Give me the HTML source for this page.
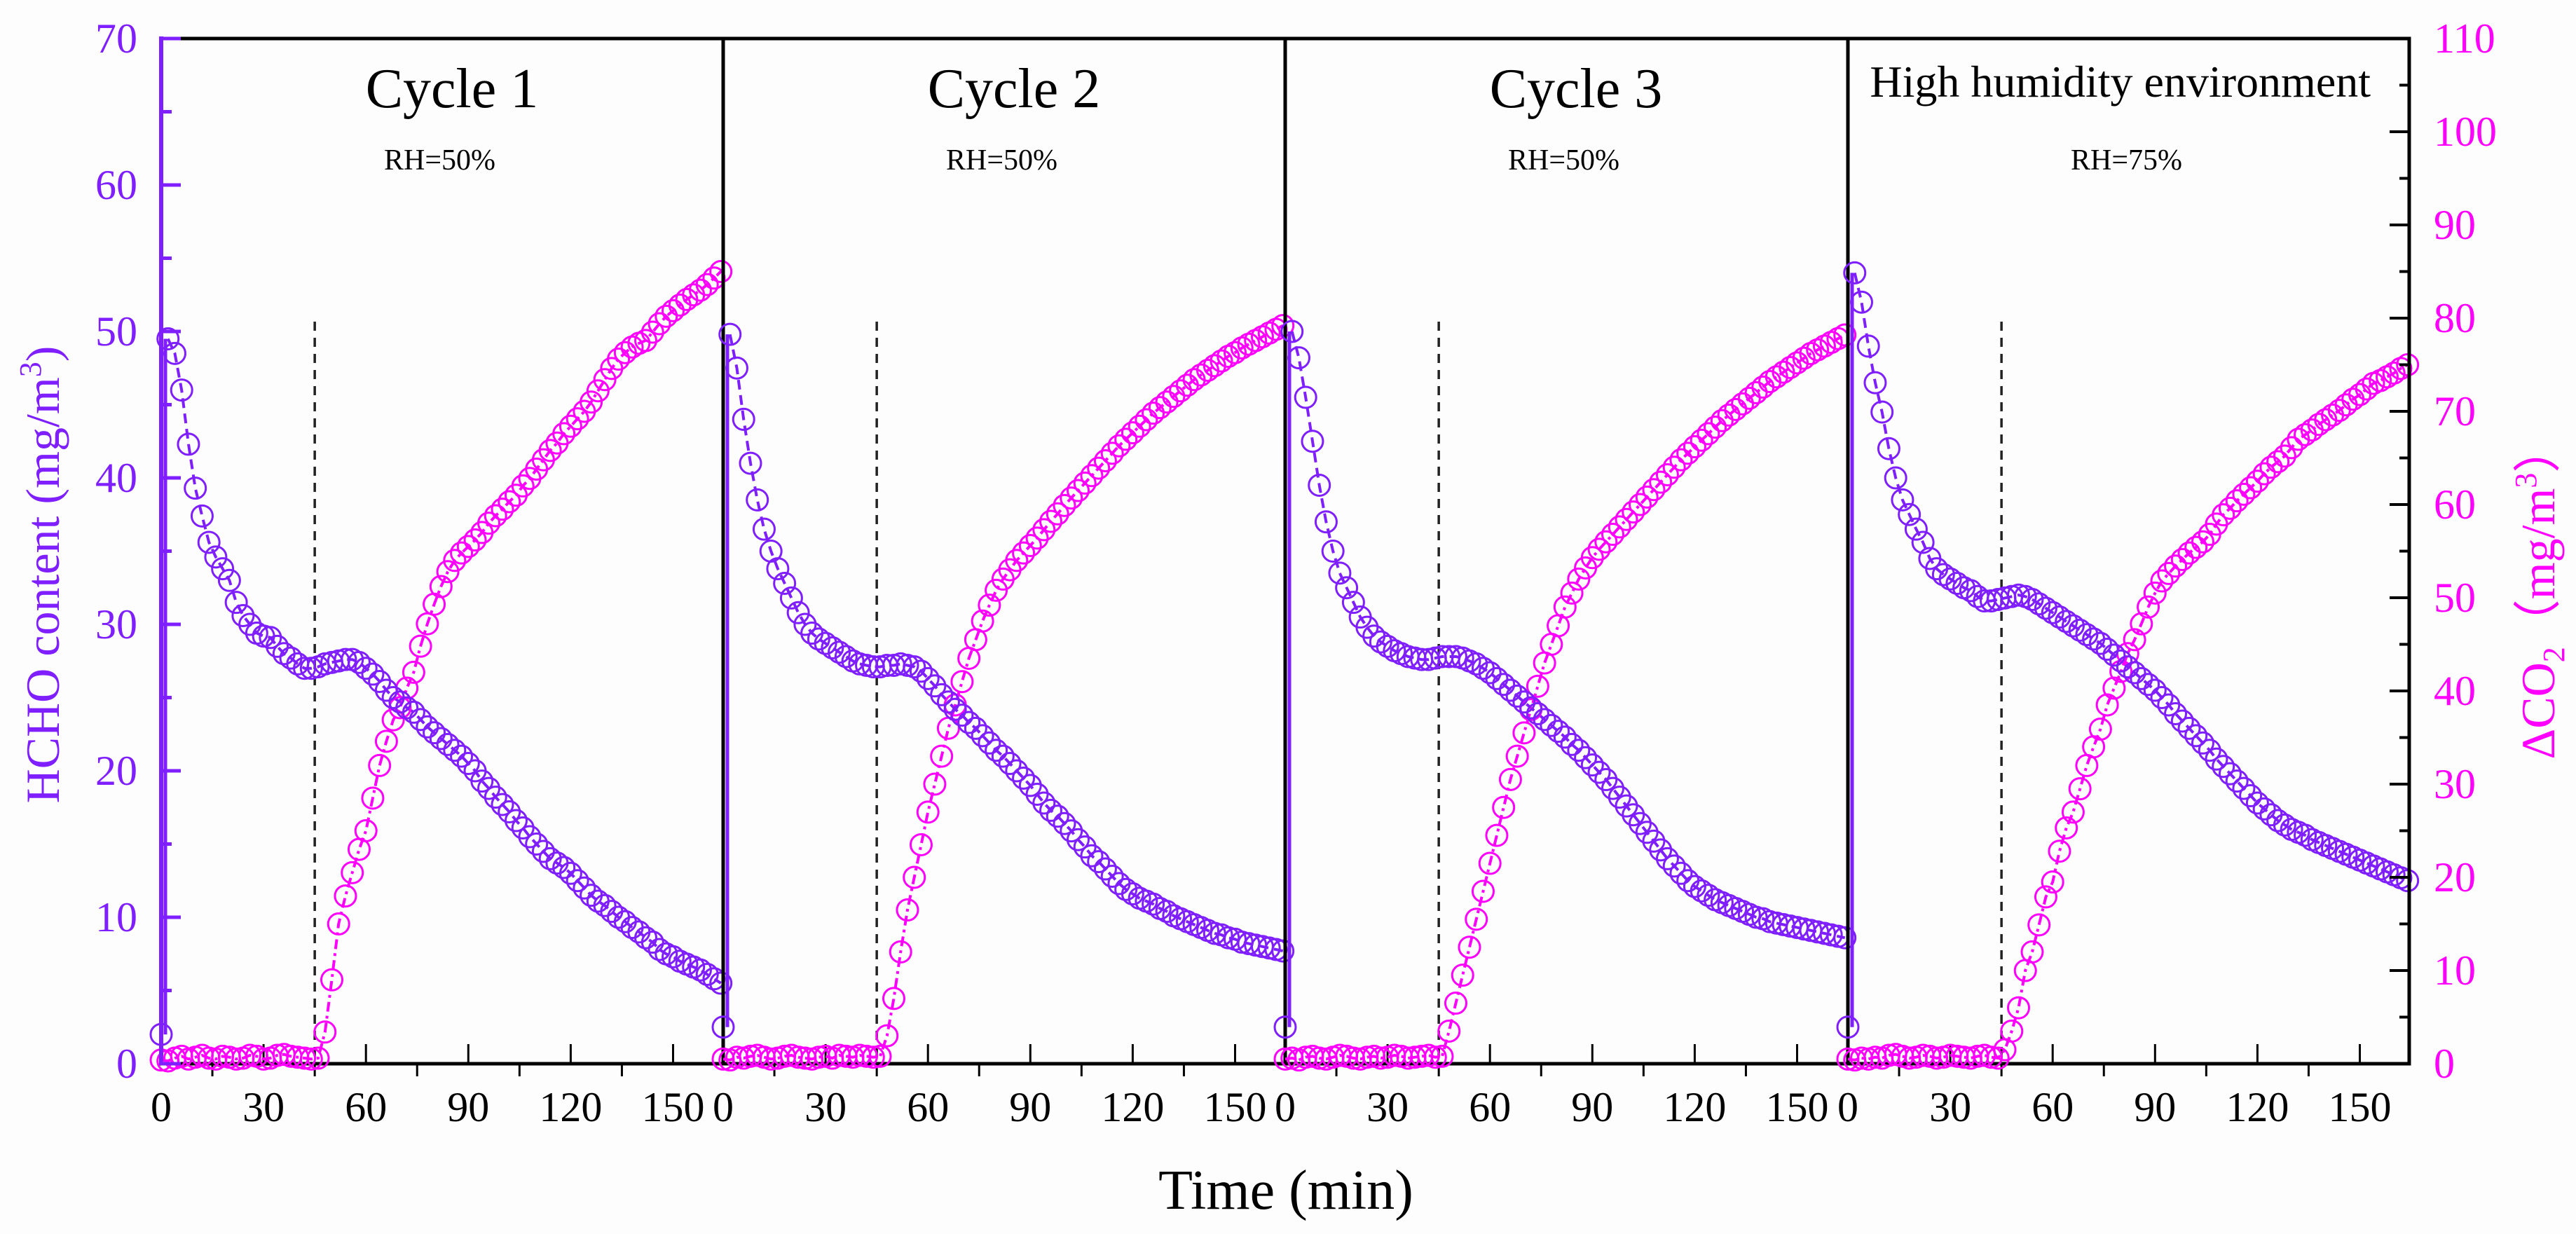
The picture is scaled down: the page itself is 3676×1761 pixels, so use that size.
<!DOCTYPE html>
<html><head><meta charset="utf-8">
<style>
html,body{margin:0;padding:0;background:#fdfdfd;}
svg{display:block;font-family:"Liberation Serif",serif;}
</style></head>
<body>
<svg id="chart" width="3676" height="1761" viewBox="0 0 3676 1761" xmlns="http://www.w3.org/2000/svg">
<rect x="0" y="0" width="3676" height="1761" fill="#fdfdfd"/>
<g id="plot"></g>
<text x="1835" y="1725" font-size="80" text-anchor="middle" fill="#000">Time (min)</text>
<text transform="translate(84,820) rotate(-90)" font-size="68" text-anchor="middle" fill="#7f1fff">HCHO content (mg/m<tspan dy="-26" font-size="44">3</tspan><tspan dy="26">)</tspan></text>
<text transform="translate(3645,845) rotate(-90)" font-size="68" text-anchor="middle" fill="#ff00ff">ΔCO<tspan dy="14" font-size="44">2</tspan><tspan dy="-14">（mg/m</tspan><tspan dy="-26" font-size="44">3</tspan><tspan dy="26">）</tspan></text>
</svg>
<script>
const times=[0,2,4,6,8,10,12,14,16,18,20,22,24,26,28,30,32,34,36,38,40,42,44,46,48,50,52,54,56,58,60,62,64,66,68,70,72,74,76,78,80,82,84,86,88,90,92,94,96,98,100,102,104,106,108,110,112,114,116,118,120,122,124,126,128,130,132,134,136,138,140,142,144,146,148,150,152,154,156,158,160,162,164];
const panelTitles=["Cycle 1","Cycle 2","Cycle 3","High humidity environment"];
const panelRH=["RH=50%","RH=50%","RH=50%","RH=75%"];
const xTicks=[0,30,60,90,120,150];
const leftTicks=[0,10,20,30,40,50,60,70];
const rightTicks=[0,10,20,30,40,50,60,70,80,90,100,110];
const switchTime=45;
const hcho1=[2,49.5,48.5,46,42.3,39.3,37.4,35.6,34.6,33.8,33,31.5,30.6,30,29.4,29.2,29.1,28.5,28,27.7,27.3,27,27,27.1,27.3,27.4,27.5,27.6,27.6,27.4,27,26.6,26.1,25.5,25,24.7,24.3,24,23.5,23,22.6,22.2,21.8,21.4,21,20.5,20,19.3,18.8,18.2,17.7,17.2,16.6,16.1,15.5,15,14.5,14,13.7,13.4,13,12.5,12,11.5,11.1,10.8,10.4,10,9.7,9.3,9,8.6,8.3,7.8,7.5,7.3,7,6.8,6.6,6.4,6.1,5.8,5.5];
const co21=[0.4,0.3,0.6,0.8,0.5,0.7,0.9,0.6,0.5,0.8,0.7,0.5,0.6,0.9,0.8,0.5,0.6,0.9,1.0,0.8,0.7,0.6,0.5,0.6,3.4,9,15,18,20.5,23,25,28.5,32,34.6,36.9,38.2,40.3,42,44.8,47.2,49.3,51.2,52.8,54,54.8,55.5,56.2,57,58,58.8,59.5,60.3,61,62,62.8,63.8,64.8,65.8,66.6,67.6,68.4,69.2,70,71,72.2,73.4,74.6,75.6,76.3,76.9,77.3,77.6,78.5,79.4,80.2,80.8,81.4,82,82.5,83,83.6,84.3,85];
const hcho2=[2.5,49.8,47.5,44,41,38.5,36.5,35,33.8,32.8,31.8,30.8,30,29.4,29,28.7,28.4,28.1,27.8,27.5,27.3,27.2,27.1,27.1,27.2,27.2,27.3,27.2,27.1,26.8,26.3,25.8,25.2,24.7,24.2,23.8,23.3,22.9,22.4,21.9,21.4,21,20.5,20,19.5,19,18.4,17.8,17.3,16.9,16.4,15.9,15.3,14.8,14.2,13.8,13.3,12.8,12.3,11.9,11.6,11.3,11.1,10.9,10.6,10.4,10.1,9.9,9.7,9.5,9.3,9.1,8.9,8.8,8.6,8.5,8.3,8.2,8.1,8,7.9,7.8,7.7];
const co22=[0.5,0.4,0.7,0.6,0.8,0.9,0.7,0.5,0.6,0.8,0.9,0.7,0.6,0.5,0.7,0.8,0.6,0.9,0.8,0.7,0.9,0.8,0.7,0.8,3,7,12,16.5,20,23.5,27,30,33,36,38.5,41,43.5,45.5,47.5,49.2,50.8,52,53,54,54.8,55.6,56.4,57.3,58.2,59,59.9,60.7,61.5,62.3,63.1,63.9,64.7,65.5,66.3,67,67.7,68.4,69.1,69.8,70.4,71,71.6,72.2,72.8,73.4,73.9,74.4,74.9,75.4,75.9,76.3,76.8,77.2,77.6,78,78.4,78.8,79.2];
const hcho3=[2.5,50,48.2,45.5,42.5,39.5,37,35,33.5,32.5,31.5,30.5,29.8,29.2,28.8,28.5,28.2,28,27.8,27.7,27.6,27.6,27.7,27.8,27.8,27.8,27.7,27.5,27.3,27,26.7,26.3,25.9,25.5,25.1,24.7,24.3,23.9,23.5,23.1,22.7,22.3,21.8,21.4,20.9,20.4,19.9,19.4,18.8,18.2,17.6,17,16.4,15.8,15.2,14.6,14,13.5,13,12.5,12.1,11.8,11.5,11.2,11,10.8,10.6,10.4,10.2,10,9.9,9.7,9.6,9.5,9.4,9.3,9.2,9.1,9,8.9,8.8,8.7,8.6];
const co23=[0.5,0.6,0.4,0.7,0.8,0.6,0.5,0.7,0.9,0.8,0.6,0.5,0.7,0.8,0.6,0.7,0.9,0.8,0.6,0.7,0.8,0.9,0.7,0.8,3.5,6.5,9.5,12.5,15.5,18.5,21.5,24.5,27.5,30.5,33,35.5,38,40.5,43,45,47,49,50.5,52,53.2,54.3,55.2,56,56.8,57.6,58.4,59.2,60,60.8,61.6,62.4,63.2,64,64.8,65.5,66.2,66.9,67.6,68.3,69,69.6,70.2,70.8,71.4,72,72.6,73.2,73.7,74.2,74.7,75.2,75.7,76.2,76.6,77,77.4,77.8,78.2];
const hcho4=[2.5,54,52,49,46.5,44.5,42,40,38.5,37.5,36.5,35.6,34.5,33.8,33.4,33.1,32.8,32.5,32.3,31.9,31.6,31.6,31.7,31.8,31.9,32,31.9,31.7,31.4,31.1,30.8,30.5,30.2,29.9,29.6,29.3,29,28.7,28.3,27.9,27.5,27.1,26.7,26.3,25.9,25.5,25,24.5,23.9,23.4,22.9,22.4,21.9,21.4,20.8,20.3,19.8,19.3,18.8,18.3,17.8,17.4,17,16.6,16.3,16,15.8,15.6,15.3,15.1,14.9,14.7,14.5,14.3,14.1,13.9,13.7,13.5,13.3,13.1,12.9,12.7,12.5];
const co24=[0.5,0.4,0.6,0.5,0.7,0.6,0.9,1.0,0.8,0.6,0.7,0.9,0.8,0.6,0.7,0.9,0.8,0.7,0.6,0.8,0.9,0.7,0.6,1.5,3.5,6,10,12,14.9,17.9,19.5,22.8,25.3,27,29.5,32,34,35.9,38.5,40.3,42.1,44,45.5,47.2,49,50.5,51.8,52.6,53.4,54.1,54.8,55.4,56,56.8,57.9,58.9,59.6,60.4,61.1,61.8,62.5,63.3,64,64.6,65.2,66.1,67,67.5,68,68.6,69.1,69.6,70.1,70.7,71.3,71.8,72.4,73,73.3,73.7,74.1,74.6,75];
const hchoSeries=[hcho1,hcho2,hcho3,hcho4];
const co2Series=[co21,co22,co23,co24];

const NS="http://www.w3.org/2000/svg";
const plot=document.getElementById('plot');
const TOP=55,BOT=1518,PXM=4.87;
const panelLeft=[230,1032,1834,2637];
const PURPLE="#7f1fff",MAG="#ff00ff";
function xPos(p,t){return panelLeft[p]+t*PXM;}
function yH(v){return BOT-v*(BOT-TOP)/70;}
function yC(v){return BOT-v*(BOT-TOP)/110;}
function mk(tag,attrs,parent){const e=document.createElementNS(NS,tag);for(const k in attrs)e.setAttribute(k,attrs[k]);(parent||plot).appendChild(e);return e;}

for(let p=0;p<4;p++){
  const g=mk('g',{});
  
  
  const L=panelLeft[p],R=(p<3?panelLeft[p+1]:3438);
  const fr=mk('rect',{x:L,y:TOP,width:R-L,height:BOT-TOP,fill:'none',stroke:'#000','stroke-width':5},g);
  
  
  for(let t=0;t<=160;t+=15){
    const major=(t%30===0);
    const x=xPos(p,t);
    const tk=mk('line',{x1:x,x2:x,y1:major?BOT-28:BOT,y2:major?BOT:BOT+18,stroke:'#000','stroke-width':3},g);
    
    
  }
  xTicks.forEach(t=>{
    const tx=mk('text',{x:xPos(p,t),y:1600,'font-size':60,'text-anchor':'middle',fill:'#000'},g);
    tx.textContent=t;
    
    
  });
  const dl=mk('line',{x1:xPos(p,switchTime),x2:xPos(p,switchTime),y1:459,y2:BOT,stroke:'#222','stroke-width':3.5,'stroke-dasharray':'13 10'},g);
  
  
  const tt=mk('text',{'font-size':p<3?80:64,fill:'#000'},g);
  if(p<3){tt.setAttribute('x',L+415);tt.setAttribute('text-anchor','middle');tt.setAttribute('y',153);}
  else{tt.setAttribute('x',3383);tt.setAttribute('text-anchor','end');tt.setAttribute('y',138);}
  tt.textContent=panelTitles[p];
  
  
  const rh=mk('text',{x:L+318,y:242,'font-size':42,fill:'#000'},g);
  rh.textContent=panelRH[p];
  
  
  const hs=hchoSeries[p];
  const jump=mk('line',{x1:xPos(p,times[0])+6,x2:xPos(p,times[0])+6,y1:yH(hs[0]),y2:yH(hs[1]),stroke:PURPLE,'stroke-width':5},g);
  
  
  const hd=hs.slice(1).map((v,i)=>(i?'L':'M')+xPos(p,times[i+1]).toFixed(1)+','+yH(v).toFixed(1)).join('');
  const cd=co2Series[p].map((v,i)=>(i?'L':'M')+xPos(p,times[i]).toFixed(1)+','+yC(v).toFixed(1)).join('');
  const hl=mk('path',{d:hd,fill:'none',stroke:PURPLE,'stroke-width':4,'stroke-dasharray':'14 8'},g);
  
  
  const cl=mk('path',{d:cd,fill:'none',stroke:MAG,'stroke-width':4,'stroke-dasharray':'14 6 4 6'},g);
  
  
  co2Series[p].forEach((v,i)=>{
    const c=mk('circle',{cx:xPos(p,times[i]),cy:yC(v),r:15,fill:'none',stroke:MAG,'stroke-width':3},g);
    
    
  });
  hs.forEach((v,i)=>{
    const c=mk('circle',{cx:xPos(p,times[i]),cy:yH(v),r:15,fill:'none',stroke:PURPLE,'stroke-width':3},g);
    
    
  });
}
const la=mk('line',{x1:230,x2:230,y1:TOP-3,y2:BOT+2,stroke:PURPLE,'stroke-width':6});


for(let v=0;v<=70;v+=5){
  const major=v%10===0;
  const tk=mk('line',{x1:230,x2:major?258:245,y1:yH(v),y2:yH(v),stroke:PURPLE,'stroke-width':5});
  
  
}
leftTicks.forEach(v=>{
  const t=mk('text',{x:196,y:yH(v)+20,'font-size':60,'text-anchor':'end',fill:PURPLE});
  t.textContent=v;
  
  
});
const ra=mk('line',{x1:3438,x2:3438,y1:TOP-2,y2:BOT+2,stroke:'#000','stroke-width':5});


for(let v=0;v<=110;v+=5){
  const major=v%10===0;
  const tk=mk('line',{x1:3438,x2:major?3410:3424,y1:yC(v),y2:yC(v),stroke:'#000','stroke-width':4});
  
  
}
rightTicks.forEach(v=>{
  const t=mk('text',{x:3473,y:yC(v)+20,'font-size':60,'text-anchor':'start',fill:MAG});
  t.textContent=v;
  
  
});
</script>
</body></html>
